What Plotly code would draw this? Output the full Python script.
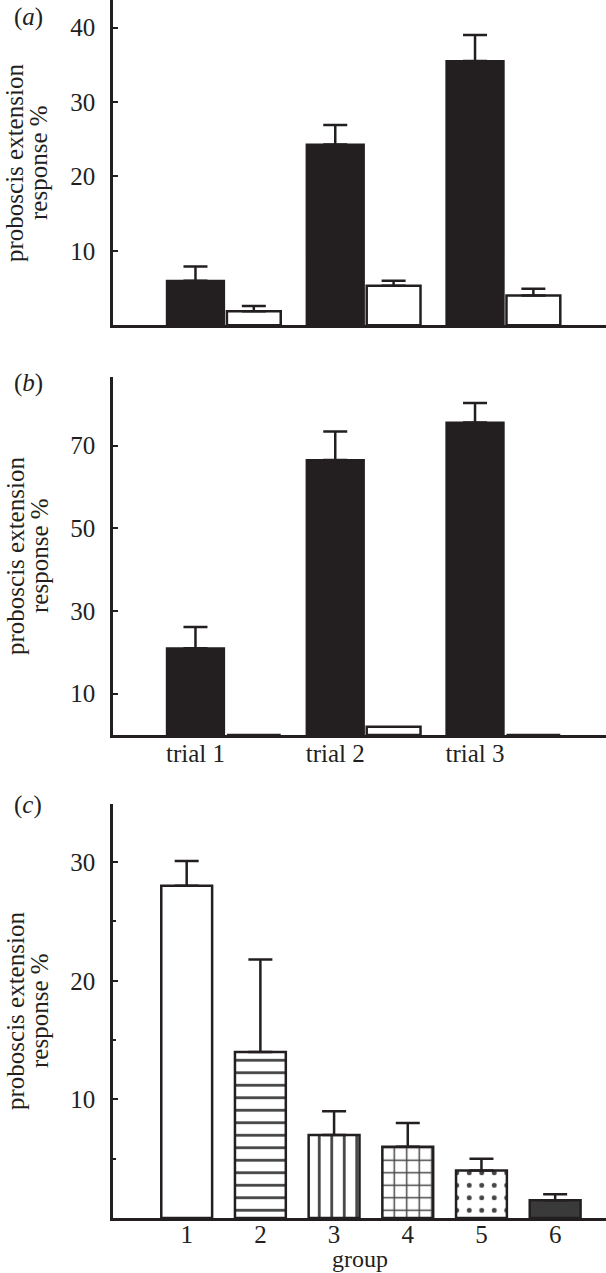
import plotly.graph_objects as go

# ---------------- data ----------------
trials = ["trial 1", "trial 2", "trial 3"]

a_black = [6.0, 24.3, 35.5]
a_black_err = [1.9, 2.6, 3.5]
a_white = [1.9, 5.3, 4.0]
a_white_err = [0.7, 0.7, 0.9]

b_black = [21.0, 66.5, 75.6]
b_black_err = [5.1, 6.9, 4.7]
b_white = [0.0, 2.0, 0.0]

groups = ["1", "2", "3", "4", "5", "6"]
c_values = [28.0, 14.0, 7.0, 6.0, 4.0, 1.5]
c_err = [2.1, 7.8, 2.0, 2.0, 1.0, 0.5]

a_ticks = [10, 20, 30, 40]
b_ticks = [10, 30, 50, 70]
c_ticks = [10, 20, 30]
c_minor = [5, 15, 25]

ylabel_1 = "proboscis extension"
ylabel_2 = "response %"
xlabel_c = "group"

# ---------------- style ----------------
W, H = 606, 1273
INK = "#231f20"
FONT = "Liberation Serif, Times New Roman, serif"
FS = 25

c_patterns = ["", "-", "|", "+", ".", ""]
c_fill = ["white", "white", "white", "white", "white", "#3a3a3a"]
c_solidity = [0.22, 0.22, 0.22, 0.22, 0.12, 0.22]


def py(p):
    return 1 - p / H


def px(p):
    return p / W


fig = go.Figure()

err_style = dict(type="data", symmetric=False, color=INK, thickness=2.5, width=12)

# panel (a)
fig.add_trace(go.Bar(x=trials, y=a_black, xaxis="x", yaxis="y",
                     offset=-0.205, width=0.41,
                     marker=dict(color=INK, line=dict(color=INK, width=2)),
                     error_y=dict(array=a_black_err, arrayminus=[0] * 3, **err_style)))
fig.add_trace(go.Bar(x=trials, y=a_white, xaxis="x", yaxis="y",
                     offset=0.225, width=0.385,
                     marker=dict(color="white", line=dict(color=INK, width=2.5)),
                     error_y=dict(array=a_white_err, arrayminus=[0] * 3, **err_style)))

# panel (b)
fig.add_trace(go.Bar(x=trials, y=b_black, xaxis="x2", yaxis="y2",
                     offset=-0.205, width=0.41,
                     marker=dict(color=INK, line=dict(color=INK, width=2)),
                     error_y=dict(array=b_black_err, arrayminus=[0] * 3, **err_style)))
fig.add_trace(go.Bar(x=trials, y=b_white, xaxis="x2", yaxis="y2",
                     offset=0.225, width=0.385,
                     marker=dict(color="white", line=dict(color=INK, width=2.5))))

# panel (c)
fig.add_trace(go.Bar(x=groups, y=c_values, xaxis="x3", yaxis="y3",
                     width=0.69,
                     marker=dict(color=c_fill, line=dict(color=INK, width=2.5),
                                 pattern=dict(shape=c_patterns, fgcolor=INK, bgcolor="white",
                                              fgopacity=1, size=12.5, solidity=c_solidity)),
                     error_y=dict(array=c_err, arrayminus=[0] * 6, **err_style)))

x_dom = [px(113), 1]
common_x = dict(showline=True, linecolor=INK, linewidth=2.5, showgrid=False, zeroline=False,
                ticks="", type="category",
                tickfont=dict(family=FONT, size=FS, color=INK))
common_y = dict(showline=True, linecolor=INK, linewidth=2.5, showgrid=False, zeroline=False,
                ticks="inside", ticklen=5, tickwidth=2, tickcolor=INK,
                ticklabelstandoff=10,
                tickfont=dict(family=FONT, size=FS, color=INK))

fig.update_layout(
    width=W, height=H,
    margin=dict(l=0, r=0, t=0, b=0),
    paper_bgcolor="white", plot_bgcolor="white",
    barmode="overlay", showlegend=False,
    font=dict(family=FONT, size=FS, color=INK),
    xaxis=dict(domain=x_dom, anchor="y", range=[-0.59, 2.937], showticklabels=False, **common_x),
    yaxis=dict(domain=[py(325.3), 1], anchor="x", range=[0, 43.7], tickvals=a_ticks, **common_y),
    xaxis2=dict(domain=x_dom, anchor="y2", range=[-0.59, 2.937], ticklabelstandoff=-6, **common_x),
    yaxis2=dict(domain=[py(735), py(377)], anchor="x2", range=[0, 86.6], tickvals=b_ticks, **common_y),
    xaxis3=dict(domain=x_dom, anchor="y3", range=[-1.0, 5.69], ticklabelstandoff=-8, **common_x),
    yaxis3=dict(domain=[py(1218), py(804)], anchor="x3", range=[0, 34.9], tickvals=c_ticks,
                minor=dict(tickvals=c_minor, ticks="inside", ticklen=3, tickwidth=2, tickcolor=INK),
                **common_y),
)

annotations = []
for lab, ypix in [("a", 17), ("b", 383), ("c", 805)]:
    annotations.append(dict(text="(<i>%s</i>)" % lab, x=px(28), y=py(ypix), xref="paper", yref="paper",
                            showarrow=False, xanchor="center", yanchor="middle",
                            font=dict(family=FONT, size=FS, color=INK)))
for ycen in [163, 556, 1011]:
    annotations.append(dict(text=ylabel_1, x=px(15), y=py(ycen), xref="paper", yref="paper",
                            showarrow=False, textangle=-90, xanchor="center", yanchor="middle",
                            font=dict(family=FONT, size=25, color=INK)))
    annotations.append(dict(text=ylabel_2, x=px(39), y=py(ycen), xref="paper", yref="paper",
                            showarrow=False, textangle=-90, xanchor="center", yanchor="middle",
                            font=dict(family=FONT, size=25, color=INK)))
annotations.append(dict(text=xlabel_c, x=px(360), y=0, xref="paper", yref="paper",
                        showarrow=False, xanchor="center", yanchor="bottom", yshift=-1,
                        font=dict(family=FONT, size=24, color=INK)))
fig.update_layout(annotations=annotations)

fig.write_html("out.html", config={"displayModeBar": False},
               post_script="document.body.style.margin='0';document.body.style.overflow='hidden';")
